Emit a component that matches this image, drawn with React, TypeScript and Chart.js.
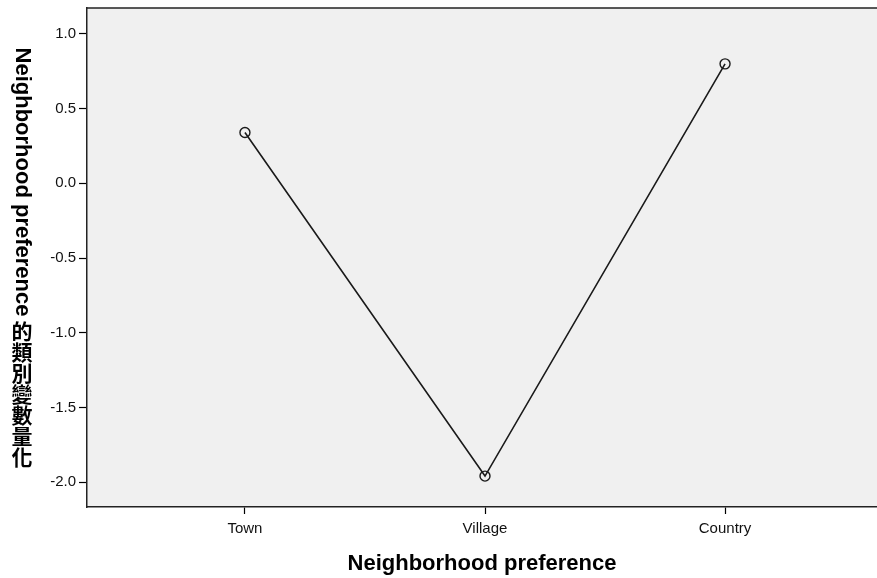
import React, { useEffect, useRef } from "react";
import { Chart, registerables } from "chart.js";

Chart.register(...registerables);

const CATEGORIES = ["Town", "Village", "Country"];
const QUANTIFICATIONS = [0.34, -1.96, 0.8];
const Y_TICKS = [-2.0, -1.5, -1.0, -0.5, 0.0, 0.5, 1.0];
const X_TITLE = "Neighborhood preference";
const Y_TITLE_LATIN = "Neighborhood preference";
const Y_TITLE_CJK = "的類別變數量化";

const Y_MIN = -2.167;
const Y_MAX = 1.174;
const X_MIN = 0.342;
const X_MAX = 3.633;

const W = 877;
const H = 578;

const decorPlugin = {
  id: "decor",
  beforeDraw(chart: any) {
    const { ctx, chartArea } = chart;
    ctx.save();
    ctx.fillStyle = "#f0f0f0";
    ctx.fillRect(chartArea.left, chartArea.top, chartArea.right - chartArea.left, chartArea.bottom - chartArea.top);
    ctx.restore();
  },
  afterDraw(chart: any) {
    const { ctx, chartArea } = chart;
    ctx.save();
    // top border
    ctx.strokeStyle = "#222";
    ctx.lineWidth = 1.5;
    ctx.beginPath();
    ctx.moveTo(chartArea.left, chartArea.top);
    ctx.lineTo(chartArea.right, chartArea.top);
    ctx.stroke();

    // x title
    ctx.fillStyle = "#000";
    ctx.font = 'bold 22px "Liberation Sans", Arial, sans-serif';
    ctx.textAlign = "center";
    ctx.textBaseline = "middle";
    ctx.fillText(X_TITLE, (chartArea.left + chartArea.right) / 2, 564);

    // y title (vertical writing: latin rotated, CJK upright)
    const latinFont = 'bold 22px "Liberation Sans", Arial, sans-serif';
    const cjkFont = 'bold 21px "Noto Sans CJK TC", "Noto Sans CJK SC", sans-serif';
    const cjkStep = 21;
    const gap = 4;
    ctx.font = latinFont;
    const wLatin = ctx.measureText(Y_TITLE_LATIN).width;
    const total = wLatin + gap + Y_TITLE_CJK.length * cjkStep;
    const cy = (chartArea.top + chartArea.bottom) / 2;
    const startY = cy - total / 2;
    const cx = 22;

    ctx.save();
    ctx.translate(cx, startY);
    ctx.rotate(Math.PI / 2);
    ctx.textAlign = "left";
    ctx.textBaseline = "middle";
    ctx.fillText(Y_TITLE_LATIN, 0, 0);
    ctx.restore();

    ctx.font = cjkFont;
    ctx.textAlign = "center";
    ctx.textBaseline = "middle";
    const chars = Array.from(Y_TITLE_CJK);
    chars.forEach((ch, i) => {
      ctx.fillText(ch, cx, startY + wLatin + gap + i * cjkStep + cjkStep / 2);
    });
    ctx.restore();
  },
};

const zeroPad = (scale: any) => {
  scale.paddingLeft = 0;
  scale.paddingRight = 0;
  scale.paddingTop = 0;
  scale.paddingBottom = 0;
};

export default function App() {
  const canvasRef = useRef<HTMLCanvasElement | null>(null);

  useEffect(() => {
    const canvas = canvasRef.current;
    if (!canvas) return;
    Chart.defaults.font.family = '"Liberation Sans", Arial, sans-serif';
    const chart = new Chart(canvas, {
      type: "line",
      data: {
        datasets: [
          {
            label: "Quantification",
            data: QUANTIFICATIONS.map((v, i) => ({ x: i + 1, y: v })),
            borderColor: "#1a1a1a",
            borderWidth: 1.6,
            pointRadius: 5,
            pointHoverRadius: 5,
            pointBorderWidth: 1.4,
            pointBorderColor: "#1a1a1a",
            pointBackgroundColor: "rgba(0,0,0,0)",
            fill: false,
            tension: 0,
          },
        ],
      },
      options: {
        responsive: false,
        animation: false,
        devicePixelRatio: 1,
        layout: { autoPadding: false, padding: { top: 8, right: 0, left: 0, bottom: 0 } },
        plugins: {
          legend: { display: false },
          tooltip: { enabled: false },
          title: { display: false },
        },
        scales: {
          x: {
            type: "linear",
            min: X_MIN,
            max: X_MAX,
            afterFit: (scale: any) => {
              scale.height = 71;
              zeroPad(scale);
            },
            afterBuildTicks: (scale: any) => {
              scale.ticks = CATEGORIES.map((_, i) => ({ value: i + 1 }));
            },
            ticks: {
              autoSkip: false,
              maxRotation: 0,
              padding: 6,
              color: "#111",
              font: { size: 15 },
              callback: (v: any) => CATEGORIES[Math.round(Number(v)) - 1] ?? "",
            },
            grid: {
              drawOnChartArea: false,
              drawTicks: true,
              tickLength: 7,
              tickColor: "#000",
              tickWidth: 1.2,
            },
            border: { display: true, color: "#222", width: 1.5 },
          },
          y: {
            type: "linear",
            min: Y_MIN,
            max: Y_MAX,
            afterFit: (scale: any) => {
              scale.width = 87;
              zeroPad(scale);
            },
            afterBuildTicks: (scale: any) => {
              scale.ticks = Y_TICKS.map((v) => ({ value: v }));
            },
            ticks: {
              padding: 3,
              color: "#111",
              font: { size: 15 },
              callback: (v: any) => Number(v).toFixed(1),
            },
            grid: {
              drawOnChartArea: false,
              drawTicks: true,
              tickLength: 8,
              tickColor: "#000",
              tickWidth: 1.2,
            },
            border: { display: true, color: "#222", width: 1.5 },
          },
        },
      },
      plugins: [decorPlugin],
    });
    return () => chart.destroy();
  }, []);

  return (
    <div style={{ position: "fixed", left: 0, top: 0, width: W, height: H, background: "#fff" }}>
      <canvas ref={canvasRef} width={W} height={H} style={{ width: W, height: H, display: "block" }} />
    </div>
  );
}
